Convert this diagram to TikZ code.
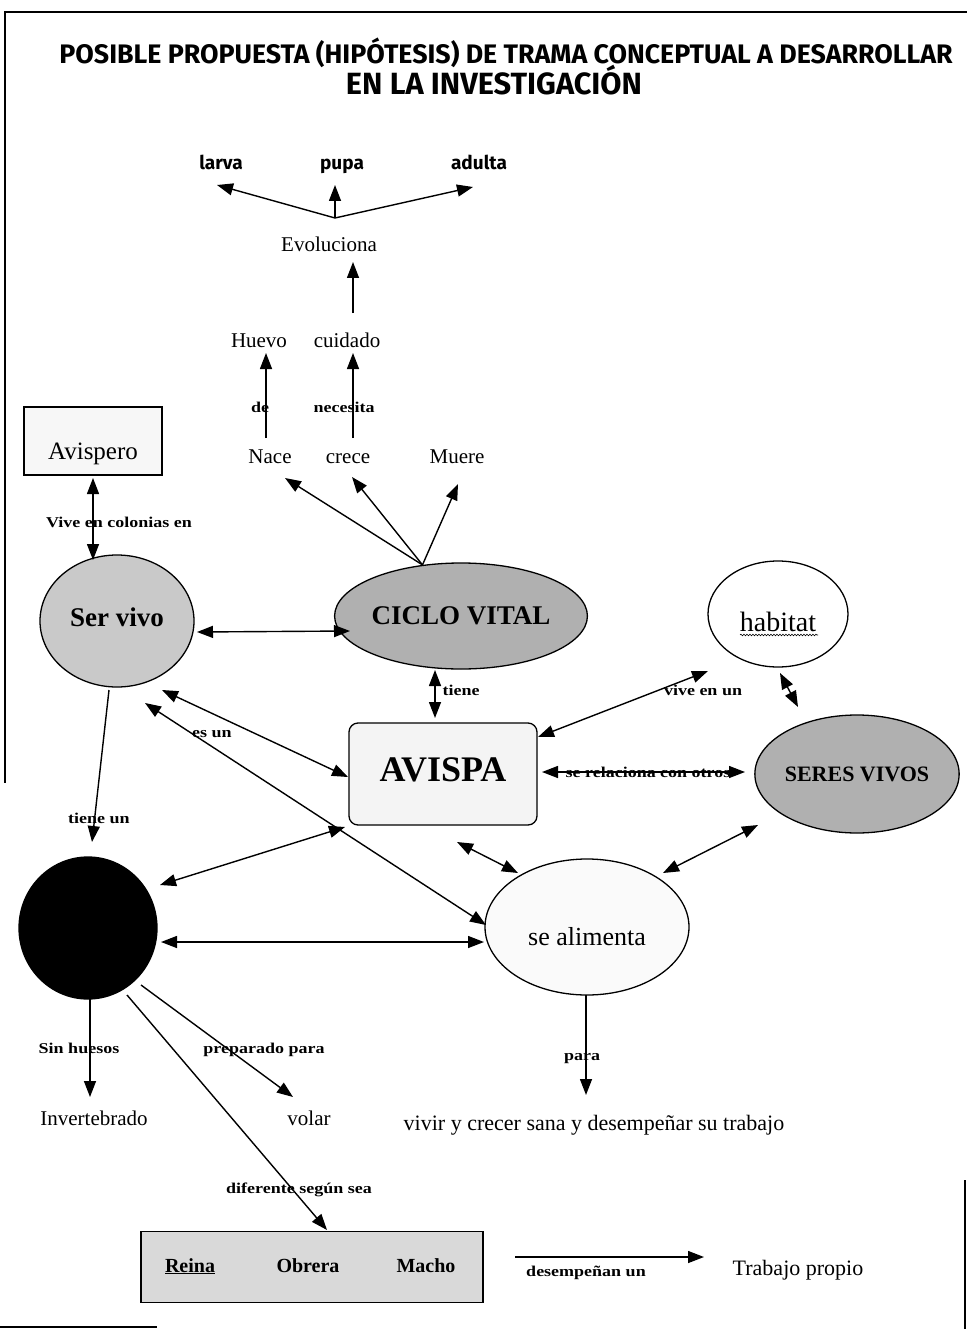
\documentclass[tikz,border=0pt]{standalone}
\usepackage{graphicx}
\usepackage{fontspec}
\setmainfont{Liberation Serif}
\newfontfamily\titlefont{Fira Sans}
\usetikzlibrary{arrows.meta,shapes.geometric,decorations.pathmorphing}
\newcommand{\fs}[1]{\fontsize{#1}{#1}\selectfont}
\newcommand{\wide}[1]{\scalebox{1.2}[1]{#1}}

\begin{document}
\begin{tikzpicture}[x=1pt,y=-1pt,
  head/.tip={Triangle[length=16pt,width=12pt]},
  link/.style={line width=1.4pt, -head},
  both/.style={line width=1.4pt, head-head},
  word/.style={font=\fs{21}, inner sep=0pt, text height=14pt, text depth=0pt},
  lbl/.style={font=\bfseries\fs{15}, inner sep=0pt, text height=10pt, text depth=0pt},
  stage/.style={font=\titlefont\bfseries\fs{19}, inner sep=0pt, text height=13pt, text depth=0pt},
  concept/.style={ellipse, draw, line width=1.3pt, inner sep=0pt},
  frame/.style={line width=1.3pt},
]
\useasboundingbox (0,0) rectangle (967,1329);

% sheet edges
\draw[frame] (4,12) -- (967,12);
\draw[frame] (5,12) -- (5,783);
\draw[frame] (0,1327) -- (157,1327);
\draw[frame] (965,1180) -- (965,1329);

% heading
\node[inner sep=0pt] (title1) at (506,53)
  {\resizebox{893pt}{!}{\titlefont\bfseries POSIBLE PROPUESTA (HIPÓTESIS) DE TRAMA CONCEPTUAL A DESARROLLAR}};
\node[inner sep=0pt] (title2) at (494,80)
  {\resizebox{296pt}{!}{\titlefont\bfseries EN LA INVESTIGACIÓN}};

% life cycle branch
\node[stage] (larva) at (221,163) {larva};
\node[stage] (pupa) at (342,163) {pupa};
\node[stage] (adulta) at (479,163) {adulta};
\node[word] (evo) at (329,245) {Evoluciona};
\node[word] (huevo) at (259,340) {Huevo};
\node[word] (cuidado) at (347,340) {cuidado};
\node[word] (nace) at (270,456) {Nace};
\node[word] (crece) at (348,456) {crece};
\node[word] (muere) at (457,456) {Muere};

\coordinate (fork) at ([shift={(6,-27)}]evo.center);
\draw[link] (fork) -- ([shift={(-4,22)}]larva.center);
\draw[link] (fork) -- ([shift={(-7,22)}]pupa.center);
\draw[link] (fork) -- ([shift={(-6,24)}]adulta.center);
\draw[link] ([shift={(6,-27)}]cuidado.center) -- ([shift={(24,17)}]evo.center);
\draw[link] ([shift={(-4,-18)}]nace.center) -- ([shift={(7,13)}]huevo.center);
\draw[link] ([shift={(5,-18)}]crece.center) -- ([shift={(6,13)}]cuidado.center);
\node[lbl] (lde) at (260,407) {\wide{de}};
\node[lbl] (lnec) at (344,407) {\wide{necesita}};

% main concepts
\node[draw, line width=1.3pt, fill=gray!6, minimum width=138pt, minimum height=68pt, inner sep=0pt,
  text height=46pt, text depth=10pt]
  (avispero) at (93,441) {\fs{25}Avispero};
\node[concept, fill=gray!42, minimum width=154pt, minimum height=132pt, text height=20pt, text depth=10pt]
  (servivo) at (117,621) {\bfseries\fs{27}Ser vivo};
\node[concept, fill=gray!62, minimum width=224pt, minimum height=106pt]
  (ciclo) at (461,616) {\bfseries\fs{27}CICLO VITAL};
\node[concept, fill=white, minimum width=140pt, minimum height=106pt, text height=40pt, text depth=6pt]
  (habitat) at (778,614) {\fs{28}habitat};
\node[draw, line width=1.3pt, rounded corners=9pt, fill=gray!9, minimum width=188pt, minimum height=102pt,
  inner sep=0pt, text height=30pt, text depth=16pt]
  (avispa) at (443,774) {\bfseries\fs{36}AVISPA};
\node[concept, fill=gray!62, minimum width=190pt, minimum height=118pt]
  (seres) at (857,774) {\bfseries\fs{22}SERES VIVOS};
\node[concept, fill=gray!4, minimum width=204pt, minimum height=136pt, text height=40pt, text depth=4pt]
  (alimenta) at (587,927) {\fs{26}se alimenta};
\node[concept, fill=black, minimum width=138pt, minimum height=142pt]
  (insecto) at (88,928) {};

\draw[line width=0.6pt, decorate, decoration={snake, amplitude=0.8pt, segment length=3pt}]
  ([shift={(-38,21)}]habitat.center) -- ([shift={(40,21)}]habitat.center);

% outcomes
\node[word] (invert) at (94,1118) {Invertebrado};
\node[word] (volar) at (309,1118) {volar};
\node[word, font=\fs{22}] (vivir) at (594,1123) {vivir y crecer sana y desempeñar su trabajo};
\node[draw, line width=1.3pt, fill=gray!30, minimum width=342pt, minimum height=71pt, inner sep=0pt]
  (castas) at (312,1267) {};
\node[inner sep=0pt, font=\bfseries\fs{20}, text height=14pt, text depth=0pt] (reina) at (190,1265) {\underline{Reina}};
\node[inner sep=0pt, font=\bfseries\fs{20}, text height=14pt, text depth=0pt] (obrera) at (308,1265) {Obrera};
\node[inner sep=0pt, font=\bfseries\fs{20}, text height=14pt, text depth=0pt] (macho) at (426,1265) {Macho};
\node[word, font=\fs{22}] (trabajo) at (798,1268) {Trabajo propio};

% relations
\draw[both] ([shift={(0,37)}]avispero.center) -- ([shift={(-24,-61)}]servivo.center);
\node[lbl] (lviv) at (119,522) {\wide{Vive en colonias en}};

\draw[both] ([shift={(80,11)}]servivo.center) -- ([shift={(-111,15)}]ciclo.center);

\coordinate (apex) at (ciclo.127);
\draw[link] (apex) -- ([shift={(15,22)}]nace.center);
\draw[link] (apex) -- ([shift={(4,21)}]crece.center);
\draw[link] (apex) -- ([shift={(1,28)}]muere.center);

\draw[both] ([shift={(-26,54)}]ciclo.center) -- ([shift={(-8,-56)}]avispa.center);
\node[lbl] (ltiene) at (461,690) {\wide{tiene}};

\draw[link] ([shift={(-8,69)}]servivo.center) -- ([shift={(4,-86)}]insecto.center);
\node[lbl] (ltun) at (99,818) {\wide{tiene un}};

\draw[both] ([shift={(45,69)}]servivo.center) -- ([shift={(-95,3)}]avispa.center);
\draw[both] ([shift={(28,82)}]servivo.center) -- ([shift={(-101,-2)}]alimenta.center);
\node[lbl] (lesun) at (212,732) {\wide{es un}};

\draw[both] ([shift={(72,-43)}]insecto.center) -- ([shift={(-98,53)}]avispa.center);
\draw[both] ([shift={(73,14)}]insecto.center) -- ([shift={(-103,15)}]alimenta.center);
\draw[both] ([shift={(14,68)}]avispa.center) -- ([shift={(-69,-54)}]alimenta.center);

\draw[both] ([shift={(95,-37)}]avispa.center) -- ([shift={(-70,57)}]habitat.center);
\node[lbl] (lvive) at (703,690) {\wide{vive en un}};

\draw[both] ([shift={(2,59)}]habitat.center) -- ([shift={(-59,-67)}]seres.center);

\draw[both] ([shift={(99,-2)}]avispa.center) -- ([shift={(-112,-2)}]seres.center);
\node[lbl] (lrel) at (648,772) {\wide{se relaciona con otros}};

\draw[both] ([shift={(-99,51)}]seres.center) -- ([shift={(76,-54)}]alimenta.center);

\draw[link] ([shift={(-1,68)}]alimenta.center) -- ([shift={(-8,-28)}]vivir.center);
\node[lbl] (lpara) at (582,1055) {\wide{para}};

\draw[link] ([shift={(2,71)}]insecto.center) -- ([shift={(-4,-21)}]invert.center);
\node[lbl] (lsin) at (79,1048) {\wide{Sin huesos}};

\draw[link] ([shift={(53,57)}]insecto.center) -- ([shift={(-16,-21)}]volar.center);
\node[lbl] (lprep) at (264,1048) {\wide{preparado para}};

\draw[link] ([shift={(39,67)}]insecto.center) -- ([shift={(15,-37)}]castas.center);
\node[lbl] (ldif) at (299,1188) {\wide{diferente según sea}};

\draw[link] ([shift={(203,-10)}]castas.center) -- ([shift={(-94,-11)}]trabajo.center);
\node[lbl] (ldes) at (586,1271) {\wide{desempeñan un}};

\end{tikzpicture}
\end{document}
